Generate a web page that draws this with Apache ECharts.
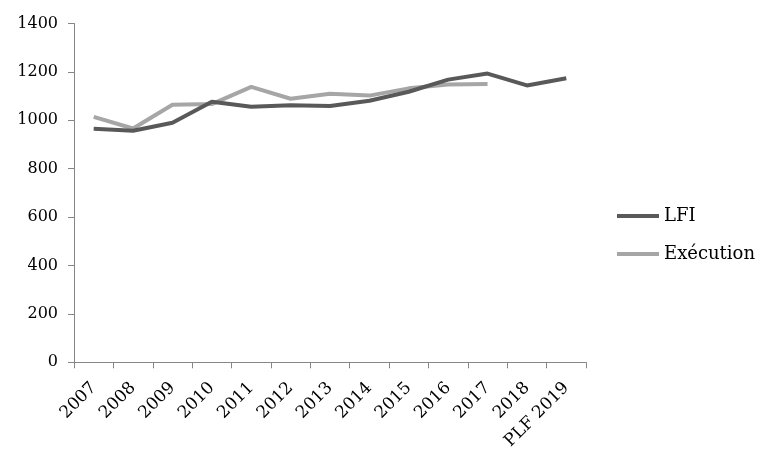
<!DOCTYPE html>
<html>
<head>
<meta charset="utf-8">
<script src="https://cdn.jsdelivr.net/npm/echarts@6/dist/echarts.min.js"></script>
<style>
html,body{margin:0;padding:0;background:#fff;}
#c{width:775px;height:471px;}
</style>
</head>
<body>
<div id="c"></div>
<script>
const categories = ['2007','2008','2009','2010','2011','2012','2013','2014','2015','2016','2017','2018','PLF 2019'];
const lfi = [965, 957, 990, 1077, 1056, 1062, 1059, 1081, 1118, 1168, 1193, 1144, 1174];
const execution = [1014, 966, 1064, 1067, 1138, 1089, 1110, 1102, 1132, 1148, 1150, null, null];
const yTicks = {min: 0, max: 1400, interval: 200};

const FONT = 'DejaVu Serif';
const chart = echarts.init(document.getElementById('c'), null, {renderer: 'canvas'});
chart.setOption({
  backgroundColor: '#ffffff',
  animation: false,
  grid: {left: 74, right: 189, top: 23.5, bottom: 108.7, containLabel: false},
  legend: {
    orient: 'vertical',
    left: 612,
    top: 202,
    itemWidth: 42,
    itemHeight: 4,
    itemGap: 20,
    icon: 'rect',
    data: ['LFI', 'Exécution'],
    textStyle: {fontFamily: FONT, fontSize: 18, color: '#000'}
  },
  xAxis: {
    type: 'category',
    data: categories,
    boundaryGap: true,
    axisLine: {lineStyle: {color: '#868686', width: 1}},
    axisTick: {show: true, length: 6, lineStyle: {color: '#868686'}},
    axisLabel: {rotate: 45, margin: 23, fontFamily: FONT, fontSize: 17, color: '#000', interval: 0},
    splitLine: {show: false}
  },
  yAxis: {
    type: 'value',
    min: yTicks.min,
    max: yTicks.max,
    interval: yTicks.interval,
    axisLine: {show: true, lineStyle: {color: '#868686', width: 1}},
    axisTick: {show: true, length: 6, lineStyle: {color: '#868686'}},
    axisLabel: {margin: 16, fontFamily: FONT, fontSize: 16, color: '#000', formatter: function (v) { return String(v); }},
    splitLine: {show: false}
  },
  series: [
    {
      name: 'LFI', type: 'line', data: lfi, symbol: 'none', z: 3,
      itemStyle: {color: '#595959'},
      lineStyle: {color: '#595959', width: 4}
    },
    {
      name: 'Exécution', type: 'line', data: execution, symbol: 'none', z: 2,
      itemStyle: {color: '#a6a6a6'},
      lineStyle: {color: '#a6a6a6', width: 4}
    }
  ]
});
</script>
</body>
</html>
